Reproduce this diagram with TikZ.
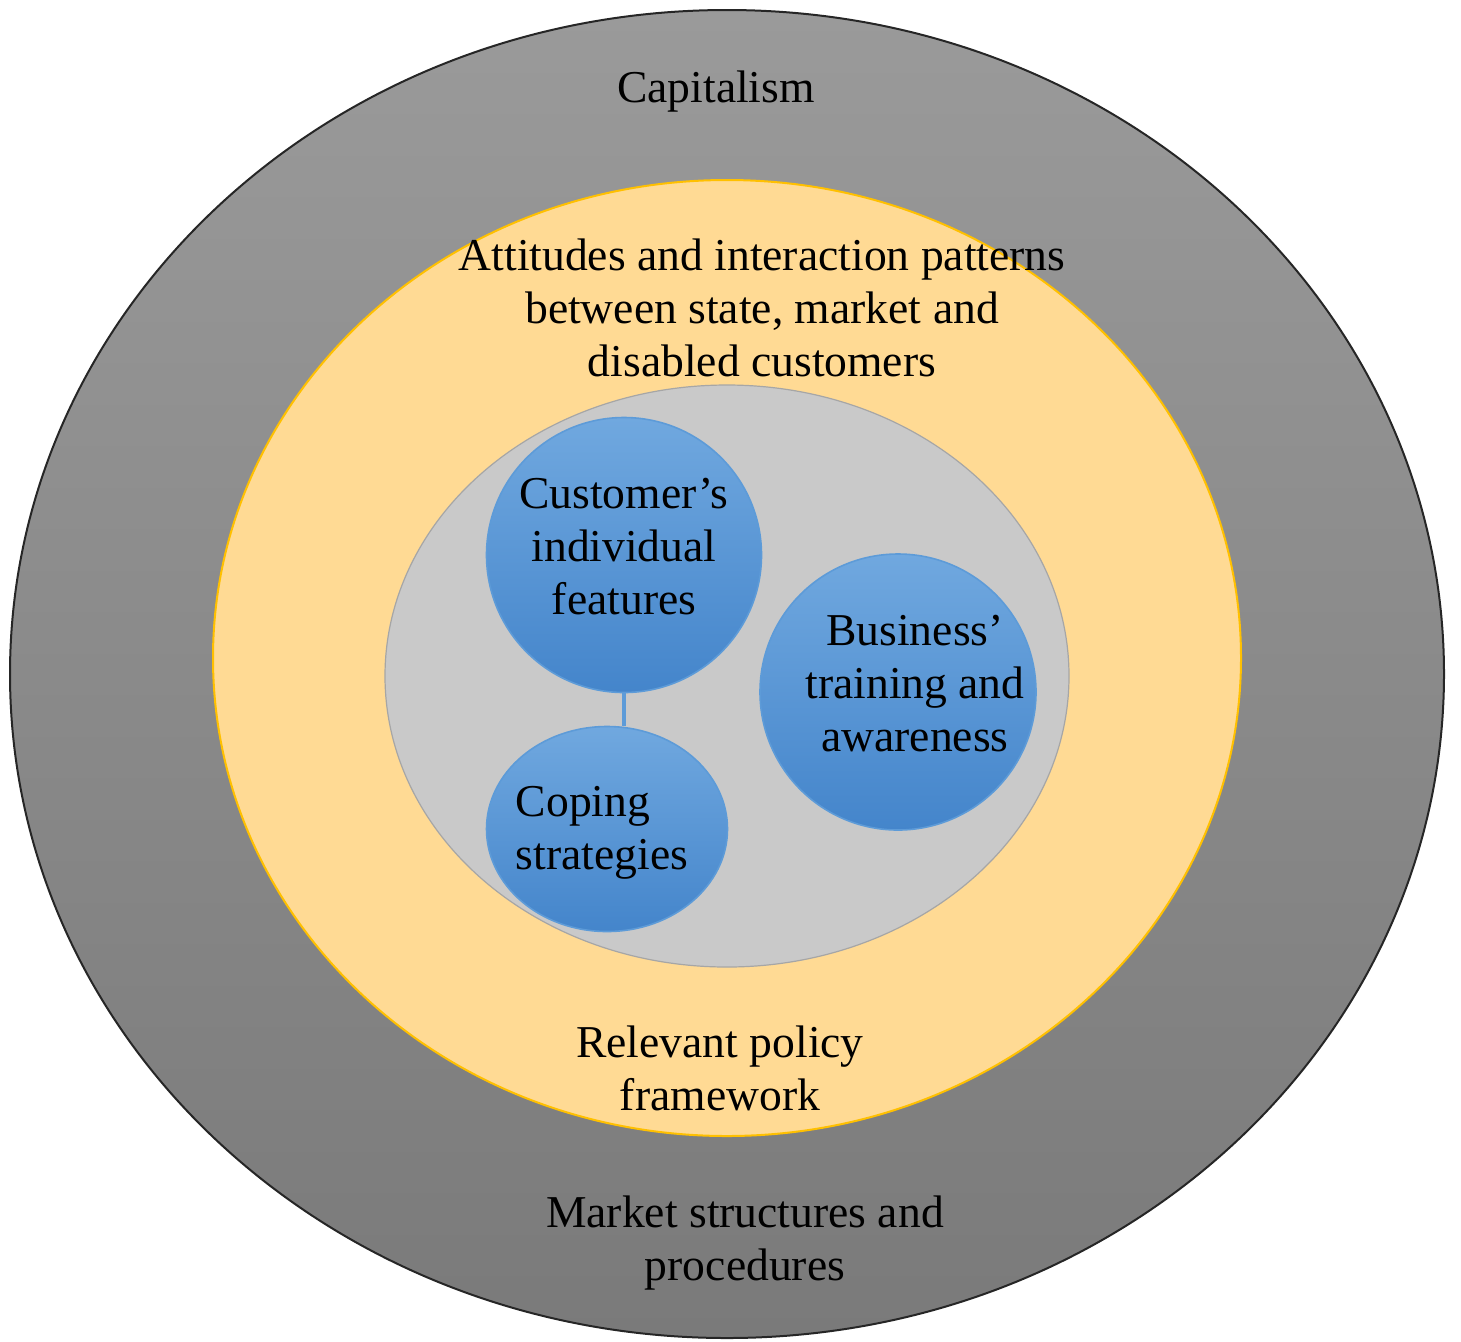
\documentclass[tikz,border=0pt]{standalone}
\usepackage{fontspec}
\setmainfont{Liberation Serif}
\usetikzlibrary{shapes.geometric}
\definecolor{ringtop}{HTML}{9A9A9A}
\definecolor{ringbottom}{HTML}{7A7A7A}
\definecolor{ringyellow}{HTML}{FFDA94}
\definecolor{ringgold}{HTML}{FFC000}
\definecolor{coregrey}{HTML}{C9C9C9}
\definecolor{coreedge}{HTML}{A6A6A6}
\definecolor{bubbletop}{HTML}{70A8DF}
\definecolor{bubbletbottom}{HTML}{4485CB}
\definecolor{bubbleedge}{HTML}{5D9BD8}
\begin{document}
\begin{tikzpicture}[x=0.5pt,y=-0.5pt,
        txt/.style={font=\fontsize{22.8}{26.5}\selectfont, text=black, inner sep=0pt},
        bubble/.style={draw=bubbleedge, line width=0.8pt, top color=bubbletop, bottom color=bubbletbottom, inner sep=0pt}]
        \useasboundingbox (0,0) rectangle (1461,1341);
        % the three rings
        \draw[line width=1pt, draw=black!85, top color=ringtop, bottom color=ringbottom] (727,674) circle[x radius=717, y radius=664];
        \draw[line width=1pt, draw=ringgold, fill=ringyellow] (727,658) circle[x radius=514, y radius=478];
        \draw[line width=0.6pt, draw=coreedge, fill=coregrey] (727,676) circle[x radius=342, y radius=291];
        \node[txt] (cap) at (716,92) {Capitalism};
        \node[txt, align=center] (att) at (762,308) {Attitudes and interaction patterns\\between state, market and\\disabled customers};
        \node[txt, align=center] (pol) at (720,1068) {Relevant policy\\framework};
        \node[txt, align=center] (mkt) at (745,1243) {Market structures and\\procedures};
        % inner bubbles
        \node[bubble, circle, minimum size=137.5pt,
            label={[txt, align=center, yshift=4pt]center:{Customer’s\\individual\\features}}] (cust) at (624,555) {};
        \node[bubble, ellipse, minimum width=120.5pt, minimum height=102.5pt,
            label={[txt, align=left, xshift=-2.5pt, yshift=-2pt]center:{Coping\\strategies}}] (coping) at (607,829) {};
        \node[bubble, circle, minimum size=138pt,
            label={[txt, align=center, xshift=8.5pt, yshift=4pt]center:{Business’\\training and\\awareness}}] (biz) at (898,692) {};
        \draw[draw=bubbleedge, line width=2pt] (cust.south) -- (cust.south |- coping.north);
\end{tikzpicture}
\end{document}
